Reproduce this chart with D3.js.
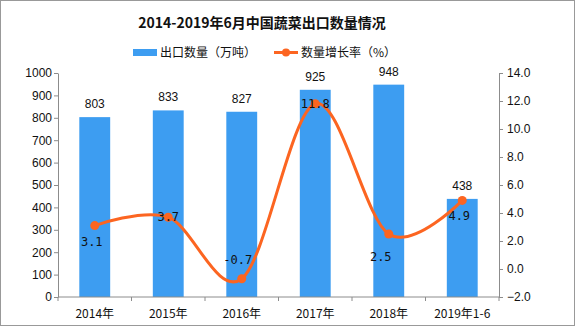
<!DOCTYPE html>
<html>
<head>
<meta charset="utf-8">
<script src="https://cdn.jsdelivr.net/npm/d3@7/dist/d3.min.js"></script>
<style>
  html, body { margin: 0; padding: 0; background: #fff; }
  svg { display: block; }
</style>
</head>
<body>
<svg id="chart" width="576" height="327"></svg>
<script>
// Vegetable exports, 2014 – June 2019
const categories = ["2014年", "2015年", "2016年", "2017年", "2018年", "2019年1-6"];
const exportVolume = [803, 833, 827, 925, 948, 438];      // 万吨
const growthRate = [3.1, 3.7, -0.7, 11.8, 2.5, 4.9];      // %
const leftTicks = [0, 100, 200, 300, 400, 500, 600, 700, 800, 900, 1000];
const rightTicks = [-2, 0, 2, 4, 6, 8, 10, 12, 14];
const rateLabelPlacement = ["below", "center", "above", "center", "belowLeft", "below"];

const W = 576, H = 327;
const margin = { left: 58, right: 77, top: 73, bottom: 30 };
const plotW = W - margin.left - margin.right;
const plotH = H - margin.top - margin.bottom;

const BLUE = "#3d9df1";
const ORANGE = "#fc6521";
const AXIS = "#8c8c8c";
const SANS = "'Liberation Sans', Arial, sans-serif";
const CJK = "'Noto Sans CJK SC', 'Noto Sans', sans-serif";

const svg = d3.select("#chart");

svg.append("rect")
  .attr("x", 0.5).attr("y", 0.5)
  .attr("width", W - 2).attr("height", H - 2)
  .attr("fill", "#fff").attr("stroke", "#999");

// Title
svg.append("text")
  .attr("x", 262).attr("y", 28)
  .attr("text-anchor", "middle")
  .attr("font-family", CJK)
  .attr("font-weight", "bold")
  .attr("font-size", 14)
  .attr("fill", "#111")
  .text("2014-2019年6月中国蔬菜出口数量情况");

// Legend
const legend = svg.append("g").attr("font-family", CJK).attr("font-size", 12).attr("fill", "#111");
legend.append("rect").attr("x", 133).attr("y", 49).attr("width", 24).attr("height", 7).attr("fill", BLUE);
legend.append("text").attr("x", 160).attr("y", 57).text("出口数量（万吨）");
legend.append("line").attr("x1", 274).attr("x2", 298).attr("y1", 52.5).attr("y2", 52.5)
  .attr("stroke", ORANGE).attr("stroke-width", 3);
legend.append("circle").attr("cx", 286).attr("cy", 52.5).attr("r", 4).attr("fill", ORANGE);
legend.append("text").attr("x", 301).attr("y", 57).text("数量增长率（%）");

const g = svg.append("g").attr("transform", `translate(${margin.left},${margin.top})`);

const x = d3.scaleBand().domain(categories).range([0, plotW]).paddingInner(0.58).paddingOuter(0.29);
const xBand = d3.scaleBand().domain(categories).range([0, plotW]);
const yL = d3.scaleLinear().domain([0, 1000]).range([plotH, 0]);
const yR = d3.scaleLinear().domain([-2, 14]).range([plotH, 0]);

// Bars
g.selectAll("rect.bar").data(exportVolume).join("rect")
  .attr("class", "bar")
  .attr("x", (d, i) => x(categories[i]))
  .attr("y", d => yL(d))
  .attr("width", x.bandwidth())
  .attr("height", d => plotH - yL(d))
  .attr("fill", BLUE);

g.selectAll("text.barLabel").data(exportVolume).join("text")
  .attr("class", "barLabel")
  .attr("x", (d, i) => x(categories[i]) + x.bandwidth() / 2)
  .attr("y", d => yL(d) - 9)
  .attr("text-anchor", "middle")
  .attr("font-family", SANS).attr("font-size", 12).attr("fill", "#111")
  .text(d => d);

// Left axis
const axL = g.append("g").call(d3.axisLeft(yL).tickValues(leftTicks).tickSize(4).tickSizeOuter(0).tickFormat(d3.format("d")));
axL.select(".domain").attr("stroke", AXIS);
axL.selectAll(".tick line").attr("stroke", AXIS);
axL.selectAll("text").attr("font-family", SANS).attr("font-size", 12).attr("fill", "#111").attr("x", -6);

// Right axis
const axR = g.append("g").attr("transform", `translate(${plotW},0)`)
  .call(d3.axisRight(yR).tickValues(rightTicks).tickSize(4).tickSizeOuter(0).tickFormat(d3.format(".1f")));
axR.select(".domain").attr("stroke", AXIS);
axR.selectAll(".tick line").attr("stroke", AXIS);
axR.selectAll("text").attr("font-family", SANS).attr("font-size", 12).attr("fill", "#111").attr("x", 8);

// Bottom axis: baseline with ticks on category boundaries
const axB = g.append("g").attr("transform", `translate(0,${plotH})`);
axB.append("line").attr("x1", 0).attr("x2", plotW).attr("stroke", AXIS);
const bounds = categories.map(c => xBand(c)).concat([plotW]);
axB.selectAll("line.tk").data(bounds).join("line")
  .attr("class", "tk")
  .attr("x1", d => d).attr("x2", d => d).attr("y1", 0).attr("y2", 4)
  .attr("stroke", AXIS);
axB.selectAll("text").data(categories).join("text")
  .attr("x", d => xBand(d) + xBand.bandwidth() / 2)
  .attr("y", 21)
  .attr("text-anchor", "middle")
  .attr("font-family", CJK).attr("font-size", 12).attr("fill", "#111")
  .text(d => d);

// Growth rate line
const cx = i => xBand(categories[i]) + xBand.bandwidth() / 2;
const line = d3.line()
  .x((d, i) => cx(i))
  .y(d => yR(d))
  .curve(d3.curveCatmullRom.alpha(0));

g.append("path").datum(growthRate)
  .attr("d", line)
  .attr("fill", "none")
  .attr("stroke", ORANGE)
  .attr("stroke-width", 3);

g.selectAll("circle.pt").data(growthRate).join("circle")
  .attr("class", "pt")
  .attr("cx", (d, i) => cx(i))
  .attr("cy", d => yR(d))
  .attr("r", 4.5)
  .attr("fill", ORANGE);

const offsets = {
  below: [-3, 20],
  center: [0, 4],
  above: [-4, -15],
  belowLeft: [-8, 27]
};
g.selectAll("text.rateLabel").data(growthRate).join("text")
  .attr("class", "rateLabel")
  .attr("x", (d, i) => cx(i) + offsets[rateLabelPlacement[i]][0])
  .attr("y", (d, i) => yR(d) + offsets[rateLabelPlacement[i]][1])
  .attr("text-anchor", "middle")
  .attr("font-family", "'DejaVu Sans Mono', monospace").attr("font-size", 12).attr("fill", "#111")
  .text(d => d.toFixed(1));
</script>
</body>
</html>
